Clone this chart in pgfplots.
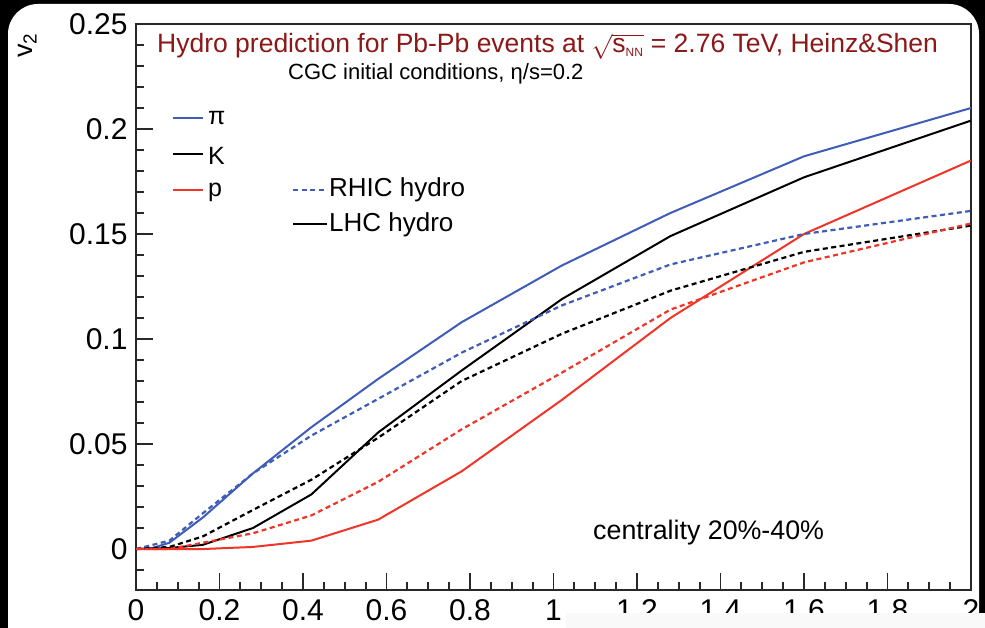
\documentclass[border=0pt]{standalone}
\usepackage{pgfplots}
\pgfplotsset{compat=1.18}
\usepackage{fontspec}
\setmainfont{Liberation Sans}
\definecolor{piblue}{RGB}{62,92,184}
\definecolor{pred}{RGB}{240,52,40}
\definecolor{tred}{RGB}{140,24,24}
\definecolor{axgray}{RGB}{40,40,40}
\begin{document}
\begin{tikzpicture}
\path[use as bounding box] (0pt,0pt) rectangle (985pt,628pt);
\fill[black] (0pt,0pt) rectangle (985pt,628pt);
\fill[white] (8pt,0pt) [rounded corners=30pt] -- (8pt,624pt) -- (979pt,624pt) [sharp corners] -- (979pt,0pt) -- cycle;
\begin{axis}[
  at={(136pt,38pt)}, anchor=south west,
  scale only axis, width=835pt, height=566pt,
  xmin=0, xmax=2, ymin=-0.0195, ymax=0.25,
  axis line style={axgray, line width=1.5pt},
  tick style={color=axgray, line width=1.8pt},
  tick align=inside,
  major tick length=17pt, minor tick length=8pt,
  xtick pos=left, ytick pos=left,
  xtick={0,0.2,0.4,0.6,0.8,1,1.2,1.4,1.6,1.8,2},
  minor xtick={0.05,0.1,0.15,0.25,0.3,0.35,0.45,0.5,0.55,0.65,0.7,0.75,0.85,0.9,0.95,1.05,1.1,1.15,1.25,1.3,1.35,1.45,1.5,1.55,1.65,1.7,1.75,1.85,1.9,1.95},
  ytick={0,0.05,0.1,0.15,0.2,0.25},
  minor ytick={-0.01,0.01,0.02,0.03,0.04,0.06,0.07,0.08,0.09,0.11,0.12,0.13,0.14,0.16,0.17,0.18,0.19,0.21,0.22,0.23,0.24},
  scaled y ticks=false, scaled x ticks=false,
  /pgf/number format/fixed,
  /pgf/number format/precision=2,
  /pgf/number format/assume math mode=true,
  tick label style={font=\fontsize{30}{30}\selectfont},
  yticklabel style={xshift=-5pt},
  xticklabel style={yshift=-6pt},
]
% pi, LHC hydro
\addplot[piblue, line width=2pt] coordinates {
(0,0) (0.04,0.0005) (0.08,0.003) (0.16,0.015) (0.28,0.036) (0.42,0.058) (0.58,0.081) (0.78,0.108) (1.02,0.135) (1.28,0.160) (1.6,0.187) (2.0,0.210)};
% K, LHC hydro
\addplot[black, line width=2pt] coordinates {
(0,0) (0.08,0.0005) (0.16,0.002) (0.28,0.010) (0.42,0.026) (0.58,0.0555) (0.78,0.085) (1.02,0.119) (1.28,0.149) (1.6,0.177) (2.0,0.204)};
% p, LHC hydro
\addplot[pred, line width=2pt] coordinates {
(0,0) (0.16,0.0) (0.28,0.001) (0.42,0.004) (0.58,0.014) (0.78,0.037) (1.02,0.071) (1.28,0.110) (1.6,0.150) (2.0,0.185)};
% pi, RHIC hydro
\addplot[piblue, line width=2.2pt, dash pattern=on 5pt off 3.5pt] coordinates {
(0,0) (0.08,0.004) (0.16,0.017) (0.28,0.036) (0.42,0.054) (0.58,0.0715) (0.78,0.0935) (1.02,0.116) (1.28,0.1355) (1.6,0.150) (2.0,0.161)};
% K, RHIC hydro
\addplot[black, line width=2.2pt, dash pattern=on 5pt off 3.5pt] coordinates {
(0,0) (0.08,0.001) (0.16,0.006) (0.28,0.0186) (0.42,0.033) (0.58,0.053) (0.78,0.080) (1.02,0.1025) (1.28,0.123) (1.6,0.1415) (2.0,0.154)};
% p, RHIC hydro
\addplot[pred, line width=2.2pt, dash pattern=on 5pt off 3.5pt] coordinates {
(0,0) (0.08,0.0) (0.16,0.003) (0.28,0.0075) (0.42,0.016) (0.58,0.032) (0.78,0.057) (1.02,0.084) (1.28,0.114) (1.6,0.1365) (2.0,0.155)};
\end{axis}
% y label
\node[rotate=90, anchor=base west, inner sep=0, font=\fontsize{27}{27}\selectfont] at (32pt,570pt) {v\textsubscript{2}};
% title
\node[anchor=base west, inner sep=0, text=tred, font=\fontsize{26.5}{26.5}\selectfont] at (157pt,575pt)
  {Hydro prediction for Pb-Pb events at $\sqrt{\mbox{s}_{\mbox{\fontsize{12}{12}\selectfont NN}}}$ = 2.76 TeV, Heinz\&Shen};
\node[anchor=base west, inner sep=0, font=\fontsize{22}{22}\selectfont] at (288pt,548pt)
  {CGC initial conditions, η/s=0.2};
% legend
\draw[piblue, line width=2pt] (173pt,510pt) -- (203pt,510pt);
\node[anchor=base west, inner sep=0, font=\fontsize{25}{25}\selectfont] at (208pt,503pt) {π};
\draw[black, line width=2pt] (173pt,474pt) -- (203pt,474pt);
\node[anchor=base west, inner sep=0, font=\fontsize{25}{25}\selectfont] at (208pt,463pt) {K};
\draw[pred, line width=2pt] (173pt,438pt) -- (203pt,438pt);
\node[anchor=base west, inner sep=0, font=\fontsize{25}{25}\selectfont] at (208pt,431pt) {p};
\draw[piblue, line width=2pt, dash pattern=on 5pt off 3.5pt] (293pt,438pt) -- (327pt,438pt);
\node[anchor=base west, inner sep=0, font=\fontsize{26}{26}\selectfont] at (329pt,431pt) {RHIC hydro};
\draw[black, line width=2pt] (293pt,404pt) -- (327pt,404pt);
\node[anchor=base west, inner sep=0, font=\fontsize{26}{26}\selectfont] at (329pt,396pt) {LHC hydro};
% centrality
\node[anchor=base west, inner sep=0, font=\fontsize{26.8}{26.8}\selectfont] at (593pt,88pt) {centrality 20\%-40\%};
% overlay at the bottom
\fill[gray!5] (566pt,0pt) rectangle (985pt,15pt);
\end{tikzpicture}
\end{document}
